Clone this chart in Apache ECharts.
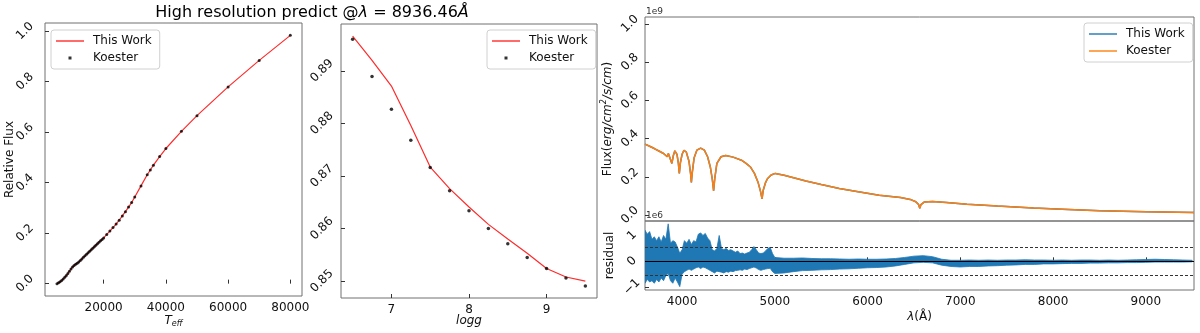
<!DOCTYPE html>
<html>
<head>
<meta charset="utf-8">
<script src="https://cdn.jsdelivr.net/npm/echarts@6/dist/echarts.min.js"></script>
<style>
html, body { margin: 0; padding: 0; background: #fff; }
#chart { width: 1200px; height: 333px; }
</style>
</head>
<body>
<div id="chart"></div>
<script>
// left panel: relative flux at 8936.46 A vs Teff
var teffGrid = [5000, 5500, 6000, 6500, 7000, 7500, 8000, 8500, 9000, 9500,
    10000, 10500, 11000, 11500, 12000, 12500, 13000, 13500, 14000, 14500,
    15000, 15500, 16000, 16500, 17000, 17500, 18000, 18500, 19000, 19500,
    20000, 21000, 22000, 23000, 24000, 25000, 26000, 27000, 28000, 29000,
    30000, 32000, 34000, 35000, 36000, 38000, 40000, 45000, 50000, 60000,
    70000, 80000];
var teffFlux = [0.000, 0.003, 0.007, 0.012, 0.018, 0.025, 0.032, 0.040, 0.049, 0.058,
    0.066, 0.072, 0.077, 0.081, 0.086, 0.092, 0.098, 0.104, 0.110, 0.116,
    0.122, 0.128, 0.134, 0.140, 0.146, 0.152, 0.158, 0.164, 0.170, 0.175,
    0.181, 0.195, 0.208, 0.222, 0.236, 0.251, 0.268, 0.285, 0.303, 0.321,
    0.343, 0.387, 0.431, 0.450, 0.469, 0.503, 0.535, 0.603, 0.665, 0.779,
    0.884, 0.983];

// middle panel: relative flux vs logg
var loggGrid = [6.5, 6.75, 7.0, 7.25, 7.5, 7.75, 8.0, 8.25, 8.5, 8.75, 9.0, 9.25, 9.5];
var loggKoester = [0.8960, 0.8889, 0.8827, 0.8768, 0.8716, 0.8672, 0.8634, 0.8600, 0.8571, 0.8545, 0.8524, 0.8506, 0.8491];
var loggThisWork = [0.8966, 0.8920, 0.8871, 0.8796, 0.8717, 0.8676, 0.8641, 0.8608, 0.8580, 0.8553, 0.8524, 0.8508, 0.8500];

// right top: spectrum (1e9 erg/cm2/s/cm)
var specWave = [3600, 3650, 3700, 3750, 3800, 3815, 3840, 3852, 3870, 3890,
    3905, 3922, 3945, 3960, 3970, 3982, 4000, 4020, 4045, 4075,
    4092, 4100, 4108, 4130, 4160, 4200, 4240, 4275, 4305, 4325,
    4340, 4352, 4375, 4420, 4470, 4550, 4640, 4690, 4740, 4780,
    4820, 4845, 4862, 4875, 4900, 4920, 4960, 5005, 5100, 5335,
    5500, 5695, 5900, 6125, 6355, 6460, 6520, 6550, 6563, 6576,
    6610, 6700, 6850, 7072, 7400, 7788, 8100, 8505, 9000, 9520];
var specFlux = [0.371, 0.360, 0.348, 0.335, 0.322, 0.317, 0.305, 0.322, 0.315, 0.270,
    0.310, 0.336, 0.318, 0.270, 0.218, 0.275, 0.318, 0.339, 0.330, 0.280,
    0.215, 0.171, 0.215, 0.300, 0.340, 0.350, 0.340, 0.305, 0.250, 0.190,
    0.127, 0.190, 0.270, 0.305, 0.312, 0.303, 0.287, 0.270, 0.250, 0.218,
    0.170, 0.125, 0.085, 0.130, 0.170, 0.190, 0.210, 0.218, 0.208, 0.178,
    0.160, 0.139, 0.122, 0.104, 0.092, 0.082, 0.070, 0.055, 0.035, 0.055,
    0.068, 0.071, 0.066, 0.057, 0.047, 0.037, 0.031, 0.023, 0.018, 0.014];

// residual envelope (1e6): every 25 A from 3600 to 4975, then every 100 A from 5000 to 9500
var resBlueHigh = [1.20, 1.05, 1.15, 0.85, 0.95, 0.80, 0.95, 0.75, 1.00, 0.85,
    1.45, 0.70, 0.80, 0.75, 0.55, 0.31, 0.45, 0.80, 0.70, 0.85,
    0.65, 0.80, 0.75, 1.05, 1.10, 1.00, 1.08, 0.90, 0.80, 0.45,
    0.40, 0.50, 1.00, 0.50, 0.45, 0.50, 0.42, 0.45, 0.40, 0.35,
    0.40, 0.30, 0.32, 0.28, 0.32, 0.35, 0.45, 0.57, 0.45, 0.32,
    0.30, 0.32, 0.40, 0.50, 0.54, 0.30];
var resBlueLow = [-0.85, -0.70, -0.80, -0.75, -0.85, -0.70, -0.80, -0.65, -0.75, -0.55,
    -0.47, -0.75, -0.85, -0.65, -0.80, -0.98, -0.50, -0.40, -0.35, -0.30,
    -0.35, -0.30, -0.25, -0.22, -0.28, -0.22, -0.25, -0.30, -0.35, -0.40,
    -0.45, -0.38, -0.40, -0.42, -0.45, -0.40, -0.42, -0.38, -0.40, -0.36,
    -0.35, -0.33, -0.35, -0.30, -0.32, -0.28, -0.25, -0.22, -0.26, -0.32,
    -0.35, -0.32, -0.30, -0.28, -0.27, -0.40];
var resRedHigh = [0.15, 0.12, 0.12, 0.13, 0.11, 0.10, 0.10, 0.09, 0.08, 0.09,
    0.08, 0.08, 0.09, 0.11, 0.15, 0.20, 0.22, 0.18, 0.08, 0.04,
    0.04, 0.05, 0.04, 0.05, 0.04, 0.05, 0.05, 0.06, 0.05, 0.05,
    0.04, 0.05, 0.04, 0.05, 0.05, 0.04, 0.05, 0.04, 0.05, 0.06,
    0.07, 0.08, 0.07, 0.06, 0.05, 0.04];
var resRedLow = [-0.47, -0.45, -0.40, -0.36, -0.35, -0.33, -0.32, -0.30, -0.29, -0.27,
    -0.25, -0.24, -0.22, -0.18, -0.12, -0.06, -0.04, -0.06, -0.15, -0.20,
    -0.22, -0.20, -0.20, -0.18, -0.17, -0.15, -0.14, -0.12, -0.12, -0.10,
    -0.10, -0.09, -0.08, -0.08, -0.07, -0.07, -0.06, -0.06, -0.05, -0.05,
    -0.04, -0.03, -0.03, -0.03, -0.03, -0.02];
var residualBand = 0.54;

var font = 'DejaVu Sans';

function zip(xs, ys) {
    var res = [];
    for (var i = 0; i < xs.length; i++) res.push([xs[i], ys[i]]);
    return res;
}

// residual envelope rows: [wavelength, high, low]
var resRows = [];
for (var i = 0; i < resBlueHigh.length; i++) {
    resRows.push([3600 + i * 25, resBlueHigh[i], resBlueLow[i]]);
}
for (var j = 0; j < resRedHigh.length; j++) {
    resRows.push([5000 + j * 100, resRedHigh[j], resRedLow[j]]);
}

var lineIcon = 'path://M0,0 M28,6 M0,2.3 L28,2.3 L28,3.7 L0,3.7 Z';
var dotIcon = 'path://M0,0 M28,6 M12.5,1.5 L15.5,1.5 L15.5,4.5 L12.5,4.5 Z';

var richName = {
    i: {fontStyle: 'italic', fontSize: 12, fontFamily: font, color: '#111'},
    s: {fontStyle: 'italic', fontSize: 8, fontFamily: font, color: '#111', padding: [7, 0, 0, 0]},
    sup: {fontStyle: 'italic', fontSize: 8, fontFamily: font, color: '#111', padding: [0, 0, 7, 0]}
};

function axis(o) {
    var a = {
        type: 'value',
        axisLine: {show: false},
        splitLine: {show: false},
        axisTick: {inside: true, length: 4, lineStyle: {color: '#333'}},
        axisLabel: {color: '#111', fontSize: 12, fontFamily: font},
        nameTextStyle: {color: '#111', fontSize: 12, fontFamily: font, rich: richName},
        nameLocation: 'middle',
        nameMoveOverlap: false
    };
    for (var k in o) {
        if (typeof o[k] === 'object' && a[k] && !Array.isArray(o[k])) {
            for (var kk in o[k]) a[k][kk] = o[k][kk];
        } else {
            a[k] = o[k];
        }
    }
    return a;
}

function legend(data, left, top) {
    return {
        data: data, left: left, top: top, orient: 'vertical',
        itemWidth: 28, itemHeight: 6, itemGap: 5,
        padding: [5, 8, 5, 5],
        borderColor: '#d0d0d0', borderWidth: 1, borderRadius: 3,
        backgroundColor: 'rgba(255,255,255,0.8)',
        selectedMode: false,
        formatter: function (n) { return n.trim(); },
        textStyle: {fontSize: 12, fontFamily: font, color: '#111', padding: [0, 0, 0, 4]}
    };
}

function plain(v) { return String(v); }

// residual noise band drawn as one polygon through the envelope
function renderResidual(params, api) {
    if (params.dataIndex !== 0) return null;
    var pts = [];
    for (var i = 0; i < resRows.length; i++) pts.push(api.coord([resRows[i][0], resRows[i][1]]));
    for (var k = resRows.length - 1; k >= 0; k--) pts.push(api.coord([resRows[k][0], resRows[k][2]]));
    return {
        type: 'polygon',
        shape: {points: pts},
        style: {fill: '#1f77b4', stroke: '#1f77b4', lineWidth: 0.8}
    };
}

var chart = echarts.init(document.getElementById('chart'));
chart.setOption({
    animation: false,
    backgroundColor: '#fff',
    graphic: [
        {type: 'text', x: 312, y: 13, style: {
            text: 'High resolution predict @{i|λ} = 8936.46{i|Å}',
            rich: {i: {fontStyle: 'italic', fontSize: 16, fontFamily: font, fill: '#000'}},
            fontSize: 16, fontFamily: font, fill: '#000', align: 'center', verticalAlign: 'middle'}},
        {type: 'text', x: 646, y: 12, style: {text: '1e9', fontSize: 9, fontFamily: font, fill: '#333', verticalAlign: 'middle'}},
        {type: 'text', x: 646, y: 216, style: {text: '1e6', fontSize: 9, fontFamily: font, fill: '#333', verticalAlign: 'middle'}}
    ],
    grid: [
        {left: 45, top: 23, width: 257, height: 275, show: true, borderColor: '#707070', borderWidth: 1},
        {left: 341, top: 24, width: 256, height: 274, show: true, borderColor: '#707070', borderWidth: 1},
        {left: 645, top: 17, width: 549, height: 204, show: true, borderColor: '#707070', borderWidth: 1},
        {left: 645, top: 221, width: 549, height: 69, show: true, borderColor: '#707070', borderWidth: 1}
    ],
    legend: [
        legend([{name: 'This Work', icon: lineIcon}, {name: 'Koester', icon: dotIcon}], 51, 30),
        legend([{name: 'This Work', icon: lineIcon}, {name: 'Koester', icon: dotIcon}], 487, 30),
        legend([{name: 'This Work ', icon: lineIcon}, {name: 'Koester ', icon: lineIcon}], 1084, 23)
    ],
    xAxis: [
        axis({gridIndex: 0, min: 1150, max: 83750, name: '{i|T}{s|eff}', nameGap: 17,
            axisLabel: {customValues: [20000, 40000, 60000, 80000], margin: 6, formatter: plain},
            axisTick: {customValues: [20000, 40000, 60000, 80000]}}),
        axis({gridIndex: 1, min: 6.35, max: 9.65, name: '{i|logg}', nameGap: 17,
            axisLabel: {customValues: [7, 8, 9], margin: 6, formatter: plain},
            axisTick: {customValues: [7, 8, 9]}}),
        axis({gridIndex: 2, min: 3600, max: 9520,
            axisLabel: {show: false}, axisTick: {show: false}}),
        axis({gridIndex: 3, min: 3600, max: 9520, name: '{i|λ}(Å)', nameGap: 21,
            axisLabel: {customValues: [4000, 5000, 6000, 7000, 8000, 9000], margin: 6, formatter: plain},
            axisTick: {customValues: [4000, 5000, 6000, 7000, 8000, 9000]}})
    ],
    yAxis: [
        axis({gridIndex: 0, min: -0.049, max: 1.032, name: 'Relative Flux', nameGap: 29,
            axisLabel: {customValues: [0, 0.2, 0.4, 0.6, 0.8, 1.0], rotate: 45, align: 'center', verticalAlign: 'middle', margin: 20,
                formatter: function (v) { return v.toFixed(1); }},
            axisTick: {customValues: [0, 0.2, 0.4, 0.6, 0.8, 1.0]}}),
        axis({gridIndex: 1, min: 0.8468, max: 0.8989,
            axisLabel: {customValues: [0.85, 0.86, 0.87, 0.88, 0.89], rotate: 45, align: 'center', verticalAlign: 'middle', margin: 19,
                formatter: function (v) { return v.toFixed(2); }},
            axisTick: {customValues: [0.85, 0.86, 0.87, 0.88, 0.89]}}),
        axis({gridIndex: 2, min: -0.031, max: 1.036, name: 'Flux({i|erg/cm}{sup|2}{i|/s/cm})', nameGap: 30,
            axisLabel: {customValues: [0, 0.2, 0.4, 0.6, 0.8, 1.0], rotate: 45, align: 'center', verticalAlign: 'middle', margin: 15,
                formatter: function (v) { return v.toFixed(1); }},
            axisTick: {customValues: [0, 0.2, 0.4, 0.6, 0.8, 1.0]}}),
        axis({gridIndex: 3, min: -1.11, max: 1.56, name: 'residual', nameGap: 29,
            axisLabel: {customValues: [-1, 0, 1], rotate: 45, align: 'center', verticalAlign: 'middle', margin: 13,
                formatter: function (v) { return String(v).replace('-', '\u2212'); }},
            axisTick: {customValues: [-1, 0, 1]}})
    ],
    series: [
        {name: 'This Work', type: 'line', xAxisIndex: 0, yAxisIndex: 0, data: zip(teffGrid, teffFlux),
            symbol: 'none', lineStyle: {color: '#ff2a2a', width: 1.2}, itemStyle: {color: '#ff2a2a'}, z: 2},
        {name: 'Koester', type: 'scatter', xAxisIndex: 0, yAxisIndex: 0, data: zip(teffGrid, teffFlux),
            symbolSize: 3, itemStyle: {color: '#000'}, z: 3},
        {name: 'This Work', type: 'line', xAxisIndex: 1, yAxisIndex: 1, data: zip(loggGrid, loggThisWork),
            symbol: 'none', lineStyle: {color: '#ff2a2a', width: 1.2}, itemStyle: {color: '#ff2a2a'}, z: 2},
        {name: 'Koester', type: 'scatter', xAxisIndex: 1, yAxisIndex: 1, data: zip(loggGrid, loggKoester),
            symbolSize: 3.5, itemStyle: {color: '#000'}, z: 3},
        {name: 'This Work ', type: 'line', xAxisIndex: 2, yAxisIndex: 2, data: zip(specWave, specFlux),
            symbol: 'none', lineStyle: {color: '#1f77b4', width: 1.5}, itemStyle: {color: '#1f77b4'}, z: 2},
        {name: 'Koester ', type: 'line', xAxisIndex: 2, yAxisIndex: 2, data: zip(specWave, specFlux),
            symbol: 'none', lineStyle: {color: '#ff7f0e', width: 1.5}, itemStyle: {color: '#ff7f0e'}, z: 3},
        {name: 'residual', type: 'custom', xAxisIndex: 3, yAxisIndex: 3, data: resRows,
            encode: {x: 0, y: [1, 2]}, renderItem: renderResidual, clip: true, z: 2,
            markLine: {
                silent: true, symbol: 'none', label: {show: false},
                data: [
                    {yAxis: residualBand, lineStyle: {color: '#333', type: [3, 2], width: 1}},
                    {yAxis: -residualBand, lineStyle: {color: '#333', type: [3, 2], width: 1}},
                    {yAxis: 0, lineStyle: {color: '#000', type: 'solid', width: 1.2}}
                ]
            }}
    ]
});
</script>
</body>
</html>
